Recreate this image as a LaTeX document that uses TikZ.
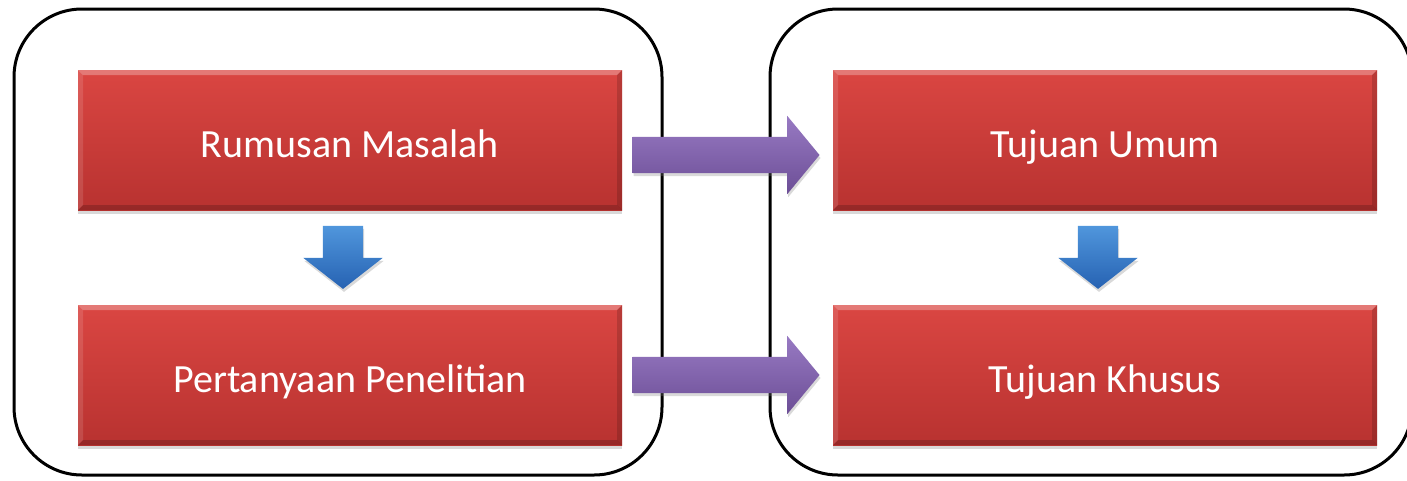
\documentclass[tikz,border=0pt]{standalone}
\usepackage{fontspec}
\setmainfont{Carlito}
\usetikzlibrary{shapes.arrows,shadows,calc}

\definecolor{redtop}{RGB}{218,70,66}
\definecolor{redbot}{RGB}{184,50,48}
\definecolor{purtop}{RGB}{152,122,195}
\definecolor{purbot}{RGB}{108,78,150}
\definecolor{blutop}{RGB}{80,150,220}
\definecolor{blubot}{RGB}{38,98,178}

\begin{document}
\begin{tikzpicture}[x=1pt,y=-1pt,
  frame/.style={draw=black,line width=3pt,rounded corners=68pt},
  bevel/.style={path picture={
    \coordinate (nw) at (path picture bounding box.north west);
    \coordinate (ne) at (path picture bounding box.north east);
    \coordinate (sw) at (path picture bounding box.south west);
    \coordinate (se) at (path picture bounding box.south east);
    \fill[white,opacity=.28] (nw) -- (ne) -- ($(ne)+(-5,5)$) -- ($(nw)+(5,5)$) -- cycle;
    \fill[white,opacity=.12] (nw) -- ($(nw)+(5,5)$) -- ($(sw)+(5,-5)$) -- (sw) -- cycle;
    \fill[black,opacity=.15] (ne) -- (se) -- ($(se)+(-5,-5)$) -- ($(ne)+(-5,5)$) -- cycle;
    \fill[black,opacity=.18] (sw) -- (se) -- ($(se)+(-5,-5)$) -- ($(sw)+(5,-5)$) -- cycle;
  }},
  redbox/.style={minimum width=544pt,minimum height=140pt,inner sep=0pt,
    text height=34pt,text depth=0pt,
    top color=redtop,bottom color=redbot,text=white,
    font=\fontsize{40}{48}\selectfont,bevel,
    drop shadow={opacity=.3,shadow xshift=0pt,shadow yshift=-4pt}},
  hflow/.style={single arrow,inner xsep=0pt,inner ysep=18pt,minimum height=187pt,
    single arrow head extend=21pt,single arrow tip angle=101,
    top color=purtop,bottom color=purbot,
    drop shadow={opacity=.3,shadow xshift=1pt,shadow yshift=-3pt}},
  vflow/.style={single arrow,rotate=-90,inner xsep=0pt,inner ysep=20pt,
    minimum height=63pt,
    single arrow head extend=19.5pt,single arrow tip angle=104,
    top color=blutop,bottom color=blubot,
    drop shadow={opacity=.3,shadow xshift=1pt,shadow yshift=-3pt}}]

\useasboundingbox (0,0) rectangle (1407,480);

% the two grouping frames
\begin{scope}
  \clip (0,0) rectangle (1407,480);
  \draw[frame] (14,9) rectangle (662,475);
  \draw[frame] (770,9) rectangle (1412,475);
\end{scope}

% boxes
\node[redbox] (rm) at (350,140) {Rumusan Masalah};
\node[redbox] (pp) at (350,375) {Pertanyaan Penelitian};
\node[redbox] (tu) at (1105,140) {Tujuan Umum};
\node[redbox] (tk) at (1105,375) {Tujuan Khusus};

% flow arrows
\node[vflow] (d1) at ($($(rm.south)!0.5!(pp.north)$)+(-7,-8)$) {};
\node[vflow] (d2) at ($($(tu.south)!0.5!(tk.north)$)+(-7,-8)$) {};
\node[hflow] (h1) at ($($(rm.east)!0.5!(tu.west)$)+(-9,15)$) {};
\node[hflow] (h2) at ($($(pp.east)!0.5!(tk.west)$)+(-9,0)$) {};
\end{tikzpicture}
\end{document}
